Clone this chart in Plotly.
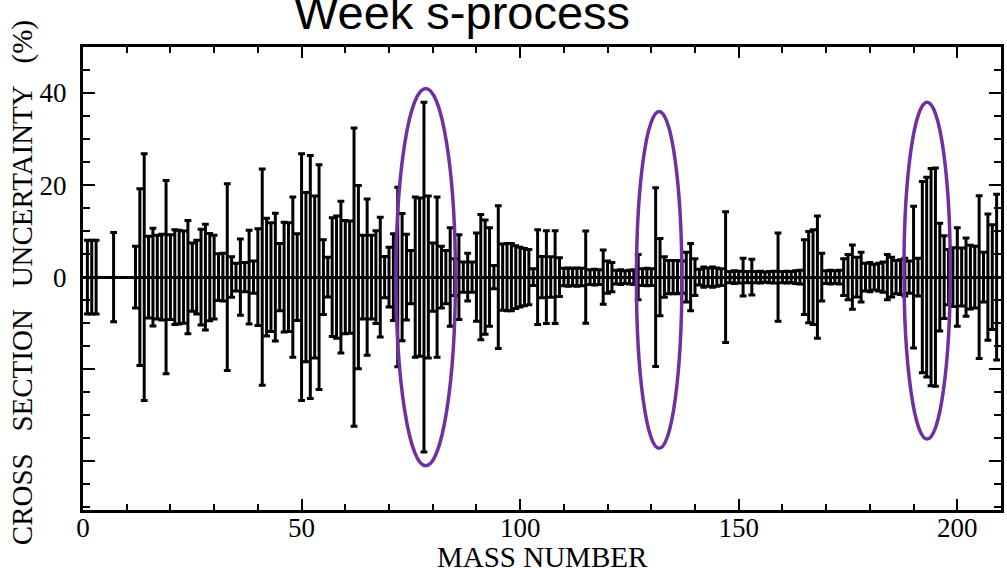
import plotly.graph_objects as go

# Mass numbers (x) and symmetric cross-section uncertainties in % (half-length of each bar)
mass_light = [1, 2, 3, 7]
unc_light = [8.0, 8.0, 8.0, 9.7]

mass_main = [
    12, 13, 14, 15, 16, 17, 18, 19, 20, 21, 22, 23, 24, 25, 26, 27, 28, 29, 30, 31,
    32, 33, 34, 35, 36, 37, 38, 39, 40, 41, 42, 43, 44, 45, 46, 47, 48, 49, 50, 51,
    52, 53, 54, 55, 56, 57, 58, 59, 60, 61, 62, 63, 64, 65, 66, 67, 68, 69, 70, 71,
    72, 73, 74, 75, 76, 77, 78, 79, 80, 81, 82, 83, 84, 85, 86, 87, 88, 89, 90, 91,
    92, 93, 94, 95, 96, 97, 98, 99, 100, 101, 102, 103, 104, 105, 106, 107, 108, 109, 110, 111,
    112, 113, 114, 115, 116, 117, 118, 119, 120, 121, 122, 123, 124, 125, 126, 127, 128, 129, 130, 131,
    132, 133, 134, 135, 136, 137, 138, 139, 140, 141, 142, 143, 144, 145, 146, 147, 148, 149, 150, 151,
    152, 153, 154, 155, 156, 157, 158, 159, 160, 161, 162, 163, 164, 165, 166, 167, 168, 169, 170, 171,
    172, 173, 174, 175, 176, 177, 178, 179, 180, 181, 182, 183, 184, 185, 186, 187, 188, 189, 190, 191,
    192, 193, 194, 195, 196, 197, 198, 199, 200, 201, 202, 203, 204, 205, 206, 207, 208, 209,
]
unc_main = [
    6.7, 19.2, 26.8, 8.9, 10.6, 9.1, 9.3, 21.0, 9.2, 10.3, 10.2, 10.0, 12.3, 7.4, 8.0, 10.4, 11.5, 9.5, 9.1, 5.1,
    5.2, 20.3, 4.4, 3.0, 8.3, 3.2, 10.2, 3.5, 10.5, 23.5, 12.8, 11.8, 13.9, 7.3, 11.9, 11.8, 17.4, 9.4, 26.8, 18.4,
    26.4, 17.6, 24.4, 8.1, 4.3, 12.9, 13.3, 16.5, 12.3, 12.2, 32.4, 19.9, 9.1, 17.0, 9.1, 10.1, 13.0, 4.5, 6.5, 9.4,
    19.5, 13.8, 9.3, 5.8, 17.4, 17.2, 38.0, 17.6, 7.4, 17.4, 6.7, 5.8, 10.7, 4.0, 9.2, 3.3, 5.2, 3.3, 9.6, 13.6,
    12.4, 10.7, 2.5, 15.5, 7.2, 7.3, 7.3, 6.8, 6.5, 6.2, 6.0, 1.8, 10.3, 4.5, 10.1, 4.4, 10.1, 4.2, 1.9, 2.0,
    1.9, 2.0, 1.9, 10.0, 1.6, 1.7, 1.6, 5.9, 3.5, 3.2, 1.5, 1.6, 1.4, 1.5, 1.6, 4.9, 1.8, 1.9, 1.8, 19.4,
    8.4, 4.4, 3.6, 3.6, 3.6, 3.5, 5.4, 7.3, 4.0, 1.7, 2.2, 2.0, 2.2, 2.0, 1.8, 14.2, 1.2, 1.4, 1.3, 4.1,
    1.2, 3.9, 1.2, 1.3, 1.1, 1.2, 1.3, 9.6, 1.2, 1.3, 1.2, 1.4, 1.5, 8.1, 9.9, 10.3, 13.3, 5.2, 1.4, 1.5,
    1.4, 1.5, 4.0, 4.9, 7.0, 4.3, 5.4, 3.0, 3.2, 2.8, 3.0, 3.3, 4.9, 4.3, 3.6, 3.8, 4.1, 3.5, 15.4, 4.1,
    20.8, 21.7, 23.6, 23.7, 11.7, 9.0, 6.0, 6.4, 10.7, 6.3, 8.5, 6.9, 6.7, 17.7, 5.4, 13.7, 11.4, 18.0,
]

mass = mass_light + mass_main
unc = unc_light + unc_main
center = [0] * len(mass)

# Highlight ellipses: centre mass, half-width (mass units), centre value, half-height (%)
ell_center_x = [78.4, 131.8, 193.1]
ell_half_w = [6.8, 5.2, 5.3]
ell_center_y = [0.0, -0.6, 1.4]
ell_half_h = [41.0, 36.6, 36.6]

x_tick_vals = [0, 50, 100, 150, 200]
x_tick_text = ["0", "50", "100", "150", "200"]
y_tick_vals = [-40, -20, 0, 20, 40]
y_tick_text = ["", "", "0", "20", "40"]

SERIF = "Liberation Serif, Times New Roman, serif"

fig = go.Figure()
fig.add_trace(go.Scatter(
    x=mass, y=center, mode="markers",
    marker=dict(size=1, color="black"),
    error_y=dict(type="data", array=unc, symmetric=True, color="black",
                 thickness=3, width=3.4),
    showlegend=False, hoverinfo="skip",
))

for cx, hw, cy, hh in zip(ell_center_x, ell_half_w, ell_center_y, ell_half_h):
    fig.add_shape(type="circle", xref="x", yref="y",
                  x0=cx - hw, x1=cx + hw, y0=cy - hh, y1=cy + hh,
                  line=dict(color="#7030A0", width=3.5), layer="above")

axis_common = dict(
    showgrid=False, showline=True, linecolor="black", linewidth=3,
    mirror="allticks", ticks="inside", tickcolor="black", tickwidth=2,
    tickfont=dict(family=SERIF, size=27, color="black"),
)

fig.update_xaxes(
    range=[0, 210], tickvals=x_tick_vals, ticktext=x_tick_text, ticklen=11,
    minor=dict(dtick=10, tick0=0, ticks="inside", ticklen=6, tickwidth=2, tickcolor="black"),
    zeroline=False, ticklabelstandoff=-8,
    **axis_common,
)
fig.update_yaxes(
    range=[-50.6, 50.0], tickvals=y_tick_vals, ticktext=y_tick_text, ticklen=12,
    minor=dict(dtick=5, tick0=0, ticks="inside", ticklen=7, tickwidth=2, tickcolor="black"),
    zeroline=True, zerolinecolor="black", zerolinewidth=3, ticklabelstandoff=8,
    **axis_common,
)

fig.add_annotation(
    text="Week s-process", xref="paper", yref="paper",
    x=0.413, y=1 + (47 - 12) / 463, xanchor="center", yanchor="middle",
    showarrow=False, font=dict(family="Liberation Sans, Arial, sans-serif", size=47, color="black"),
)
fig.add_annotation(
    text="MASS NUMBER", xref="paper", yref="paper",
    x=0.5, y=1 - (557 - 47) / 463, xanchor="center", yanchor="middle",
    showarrow=False, font=dict(family=SERIF, size=29, color="black"),
)
sp = "\u00a0\u00a0\u00a0"
fig.add_annotation(
    text="CROSS" + sp + "SECTION" + sp + "UNCERTAINTY" + sp + "(%)",
    xref="paper", yref="paper", x=(22 - 83) / 921, y=1 - (283 - 47) / 463,
    xanchor="center", yanchor="middle", textangle=-90,
    showarrow=False, font=dict(family=SERIF, size=29, color="black"),
)

fig.update_layout(
    width=1007, height=575,
    margin=dict(l=83, r=3, t=47, b=65),
    paper_bgcolor="white", plot_bgcolor="white",
    showlegend=False,
)

fig.write_html("out.html")
